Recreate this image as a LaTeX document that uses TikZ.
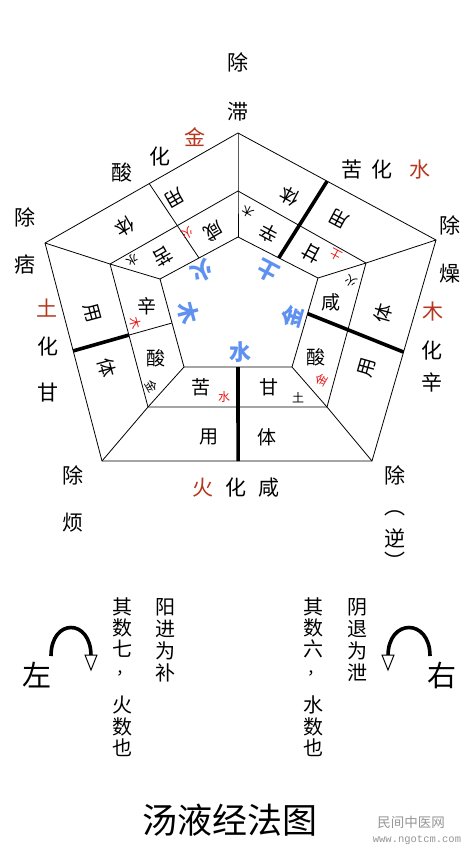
\documentclass[tikz,border=0pt]{standalone}
\usepackage{fontspec}
\setmainfont{Noto Sans CJK SC}
\newfontfamily\wmmono{Liberation Mono}
\usetikzlibrary{calc}
\definecolor{elred}{RGB}{180,55,30}
\definecolor{smred}{RGB}{235,20,20}
\definecolor{cblue}{RGB}{95,145,240}
\definecolor{wmgray}{RGB}{150,150,150}
\begin{document}
\begin{tikzpicture}[x=1pt,y=-1pt,
  lbl/.style={inner sep=0pt, font=\fontsize{21}{21}\selectfont},
  elem/.style={lbl, text=elred},
  bandc/.style={inner sep=0pt, font=\fontsize{19}{19}\selectfont},
  smc/.style={inner sep=0pt, font=\fontsize{12}{12}\selectfont},
  smr/.style={smc, text=smred},
  blu/.style={inner sep=0pt, font=\fontsize{22}{22}\selectfont\bfseries, text=cblue},
  thinl/.style={line width=0.8pt},
  thickl/.style={line width=3.6pt},
  colc/.style={inner sep=0pt, font=\fontsize{20}{20}\selectfont},
  commac/.style={inner sep=0pt, font=\fontsize{16}{16}\selectfont},
  sidec/.style={inner sep=0pt, font=\fontsize{29}{29}\selectfont},
  arcl/.style={line width=3.6pt}]

\path[use as bounding box, fill=white] (0,0) rectangle (472,854);

% pentagon vertices
\coordinate (O1) at (238,133); \coordinate (O2) at (436,240);
\coordinate (O3) at (372,461); \coordinate (O4) at (102,461);
\coordinate (O5) at (45,243);
\coordinate (M1) at (238,191); \coordinate (M2) at (366,263);
\coordinate (M3) at (327,407); \coordinate (M4) at (148,407);
\coordinate (M5) at (110,264);
\coordinate (I1) at (238,237); \coordinate (I2) at (318,278);
\coordinate (I3) at (292,367); \coordinate (I4) at (184,367);
\coordinate (I5) at (160,279);

\draw[thinl] (O1)--(O2)--(O3)--(O4)--(O5)--cycle;
\draw[thinl] (M1)--(M2)--(M3)--(M4)--(M5)--cycle;
\draw[thinl] (I1)--(I2)--(I3)--(I4)--(I5)--cycle;
\foreach \k in {1,...,5}{\draw[thinl] (O\k)--(M\k)--(I\k);}

% dividers
\coordinate (dTLo) at ($(O5)!0.54!(O1)$); \coordinate (dTLi) at ($(I5)!0.5!(I1)$);
\draw[thinl] (dTLo)--(dTLi);
\coordinate (dTRo) at ($(O1)!0.45!(O2)$); \coordinate (dTRi) at ($(I1)!0.51!(I2)$);
\draw[thickl] (dTRo)--(dTRi);
\coordinate (dRi) at ($(I2)!0.40!(I3)$); \coordinate (dRo) at ($(O2)!0.507!(O3)$);
\draw[thickl] (dRi)--(dRo);
\coordinate (dBi) at ($(I4)!0.5!(I3)$); \coordinate (dBo) at ($(O4)!0.504!(O3)$);
\draw[thickl] (dBi)--(dBo);
\coordinate (dLo) at ($(O5)!0.495!(O4)$); \coordinate (dLm) at ($(M5)!0.497!(M4)$);
\coordinate (dLi) at ($(I5)!0.5!(I4)$);
\draw[thickl] (dLo)--(dLm);
\draw[thinl] (dLm)--(dLi);

% outer band labels
\node[bandc, rotate=210] (obTL1) at (175,198) {用};
\node[bandc, rotate=210] (obTL2) at (125,226) {体};
\node[bandc, rotate=152] (obTR1) at (290,196) {体};
\node[bandc, rotate=152] (obTR2) at (339,219) {用};
\node[bandc, rotate=-75] (obL1) at (92,313) {用};
\node[bandc, rotate=-75] (obL2) at (107,368) {体};
\node[bandc, rotate=74] (obR1) at (383,313) {体};
\node[bandc, rotate=74] (obR2) at (367,368) {用};
\node[bandc] (obB1) at (209,437) {用};
\node[bandc] (obB2) at (267,437) {体};

% inner band labels
\node[bandc, rotate=210] (ibTL1) at (214,231) {咸};
\node[bandc, rotate=210] (ibTL2) at (163,257) {苦};
\node[bandc, rotate=152] (ibTR1) at (269,233) {辛};
\node[bandc, rotate=152] (ibTR2) at (312,253) {甘};
\node[bandc] (ibL1) at (147,306) {辛};
\node[bandc] (ibL2) at (156,358) {酸};
\node[bandc] (ibR1) at (331,302) {咸};
\node[bandc] (ibR2) at (316,357) {酸};
\node[bandc] (ibB1) at (201,387) {苦};
\node[bandc] (ibB2) at (269,387) {甘};

% small element labels
\node[smr, rotate=210] (sTL1) at (188,233) {火};
\node[smc, rotate=210] (sTL2) at (133,260) {水};
\node[smc, rotate=152] (sTR1) at (248,212) {木};
\node[smr, rotate=152] (sTR2) at (336,255) {土};
\node[smr, rotate=-75] (sL1) at (135,323) {木};
\node[smc, rotate=-60] (sL2) at (152,386) {金};
\node[smc, rotate=150] (sR1) at (351,281) {火};
\node[smr, rotate=60] (sR2) at (321,380) {金};
\node[smr] (sB1) at (224,397) {水};
\node[smc] (sB2) at (298,398) {土};

% centre five phases
\node[blu, rotate=210] (cF) at (202,271) {火};
\node[blu, rotate=152] (cE) at (268,271) {土};
\node[blu, rotate=-75] (cW) at (188,313) {木};
\node[blu, rotate=74] (cM) at (292,317) {金};
\node[blu] (cA) at (240,352) {水};

% outer labels
\node[lbl] (tp1) at (238,62) {除};
\node[lbl] (tp2) at (238,112) {滞};
\node[lbl] (tl1) at (122,173) {酸};
\node[lbl] (tl2) at (160,157) {化};
\node[elem] (tl3) at (195,137) {金};
\node[lbl] (tr1) at (352,170) {苦};
\node[lbl] (tr2) at (382,170) {化};
\node[elem] (tr3) at (420,170) {水};
\node[lbl] (r1) at (450,225) {除};
\node[lbl] (r2) at (450,274) {燥};
\node[elem] (r3) at (433,312) {木};
\node[lbl] (r4) at (432,351) {化};
\node[lbl] (r5) at (432,382) {辛};
\node[lbl] (l1) at (25,217) {除};
\node[lbl] (l2) at (25,265) {痞};
\node[elem] (l3) at (47,308) {土};
\node[lbl] (l4) at (48,347) {化};
\node[lbl] (l5) at (48,393) {甘};
\node[lbl] (bl1) at (73,475) {除};
\node[lbl] (bl2) at (73,523) {烦};
\node[lbl] (br1) at (395,475) {除};
\node[lbl] (br2) at (395,513) {︵};
\node[lbl] (br3) at (395,538) {逆};
\node[lbl] (br4) at (395,561) {︶};
\node[elem] (b1) at (203,488) {火};
\node[lbl] (b2) at (236,488) {化};
\node[lbl] (b3) at (269,488) {咸};

% lower part: left
\node[sidec] (zuo) at (37,675) {左};
\coordinate (aL1) at (51,656); \coordinate (aL2) at (91,656);
\draw[arcl] (aL1) .. controls (51,618) and (91,618) .. (aL2);
\draw[line width=1pt, fill=white] (85,655) -- (97,655) -- (91,670) -- cycle;
\node[colc] (c11) at (122,607) {其};
\node[colc] (c12) at (122,628) {数};
\node[colc] (c13) at (122,649) {七};
\node[commac] (c14) at (124,673) {，};
\node[colc] (c15) at (122,705) {火};
\node[colc] (c16) at (122,727) {数};
\node[colc] (c17) at (122,748) {也};
\node[colc] (c21) at (165,607) {阳};
\node[colc] (c22) at (165,629) {进};
\node[colc] (c23) at (165,651) {为};
\node[colc] (c24) at (165,673) {补};

% lower part: right
\node[sidec] (you) at (442,675) {右};
\coordinate (aR1) at (430,656); \coordinate (aR2) at (388,656);
\draw[arcl] (aR1) .. controls (430,618) and (388,618) .. (aR2);
\draw[line width=1pt, fill=white] (382,655) -- (394,655) -- (388,670) -- cycle;
\node[colc] (c31) at (313,607) {其};
\node[colc] (c32) at (313,628) {数};
\node[colc] (c33) at (313,649) {六};
\node[commac] (c34) at (315,673) {，};
\node[colc] (c35) at (313,705) {水};
\node[colc] (c36) at (313,727) {数};
\node[colc] (c37) at (313,748) {也};
\node[colc] (c41) at (357,607) {阴};
\node[colc] (c42) at (357,629) {退};
\node[colc] (c43) at (357,651) {为};
\node[colc] (c44) at (357,673) {泄};

% title and watermark
\node[inner sep=0pt, font=\fontsize{35}{35}\selectfont] (title) at (230,820) {汤液经法图};
\node[inner sep=0pt, font=\fontsize{13.5}{13.5}\selectfont, text=wmgray] (wm1) at (411,822) {民间中医网};
\node[inner sep=0pt, font=\wmmono\fontsize{10.5}{10.5}\selectfont, text=wmgray] (wm2) at (417,840) {www.ngotcm.com};
\end{tikzpicture}
\end{document}
